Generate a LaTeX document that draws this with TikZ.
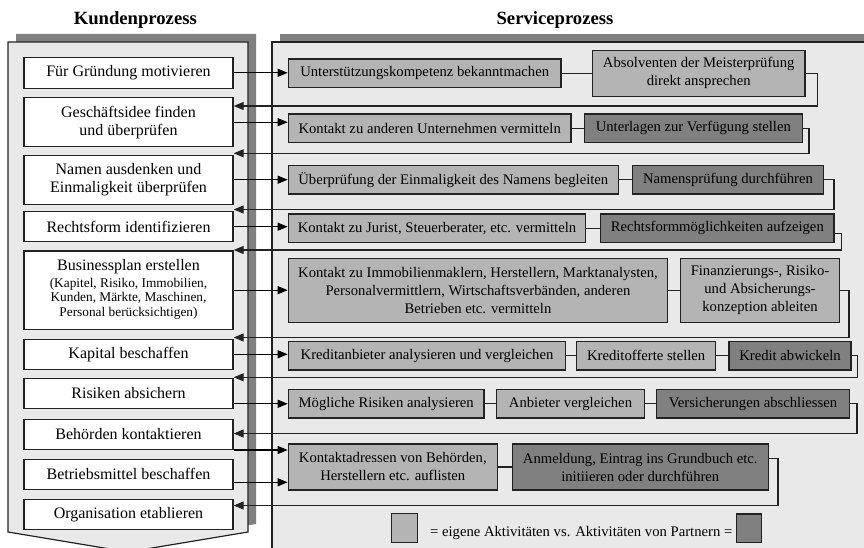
\documentclass[tikz,border=0pt]{standalone}
\usepackage{fontspec}
\setmainfont{Liberation Serif}
\usetikzlibrary{arrows.meta}
\definecolor{panelgray}{RGB}{233,233,233}
\definecolor{shadowgray}{RGB}{128,128,128}
\definecolor{ownact}{RGB}{180,180,180}
\definecolor{partneract}{RGB}{128,128,128}
\definecolor{edgegray}{RGB}{34,34,34}

\begin{document}
\begin{tikzpicture}[x=0.75pt,y=0.75pt,yscale=-1,xscale=1,
		kbox/.style={draw=edgegray,line width=1pt,fill=white,inner sep=0pt,align=center,minimum width=156.75pt,minimum height=22.5pt,font=\fontsize{12}{13.5}\selectfont},
		sbox/.style={draw=edgegray,line width=1pt,fill=ownact,inner sep=0pt,align=center,minimum height=21.5pt,font=\fontsize{11}{13.5}\selectfont},
		pbox/.style={sbox,fill=partneract},
		fwd/.style={draw=black,line width=0.9pt,-{Triangle[length=7.5pt,width=6pt]}},
		back/.style={fwd,draw=edgegray},
		link/.style={draw=edgegray,line width=0.9pt},
		ttl/.style={font=\bfseries\fontsize{14}{16}\selectfont,anchor=base}]
	\useasboundingbox (0,0) rectangle (864,548);
	\clip (0,0) rectangle (864,548);
	
	%Shape: Kundenprozess panel
	\fill[shadowgray] (16,34) -- (256,34) -- (256,524) -- (136,544) -- (16,524) -- cycle;
	\draw[draw=edgegray,fill=panelgray,line width=0.9pt] (8,42) -- (248,42) -- (248,532) -- (128,552) -- (8,532) -- cycle;
	%Shape: Serviceprozess panel
	\fill[shadowgray] (280,34) rectangle (890,570);
	\draw[draw=edgegray,fill=panelgray,line width=0.9pt] (272,42) rectangle (880,570);
	
	% Text Node
	\node[ttl] (tk) at (135.3,25) {Kundenprozess};
	% Text Node
	\node[ttl] (ts) at (555,25) {Serviceprozess};
	
	%Kundenprozess steps
	\node[kbox,minimum height=23.25pt] (k1) at (128.5,72.8) {Für Gründung motivieren};
	\node[kbox,minimum height=36.75pt] (k2) at (128.5,122.2) {Geschäftsidee finden\\und überprüfen};
	\node[kbox,minimum height=36.75pt] (k3) at (128.5,179.7) {Namen ausdenken und\\Einmaligkeit überprüfen};
	\node[kbox] (k4) at (128.5,226.7) {Rechtsform identifizieren};
	\node[kbox,minimum height=58.7pt] (k5) at (128.5,290.2) {Businessplan erstellen\\[1pt]{\fontsize{10}{11}\selectfont\begin{tabular}{@{}c@{}}(Kapitel, Risiko, Immobilien,\\Kunden, Märkte, Maschinen,\\Personal berücksichtigen)\end{tabular}}};
	\node[kbox] (k6) at (128.5,354.3) {Kapital beschaffen};
	\node[kbox] (k7) at (128.5,393.3) {Risiken absichern};
	\node[kbox] (k8) at (128.5,434.3) {Behörden kontaktieren};
	\node[kbox] (k9) at (128.5,474.3) {Betriebsmittel beschaffen};
	\node[kbox] (k10) at (128.5,514.3) {Organisation etablieren};
	
	%Serviceprozess activities
	\node[sbox,minimum width=204.5pt] (s11) at (424.7,73.3) {Unterstützungskompetenz bekanntmachen};
	\node[sbox,minimum width=159.5pt,minimum height=34.5pt] (s12) at (698.7,73.3) {Absolventen der Meisterprüfung\\direkt ansprechen};
	\node[sbox,minimum width=212pt] (s21) at (429.7,128.3) {Kontakt zu anderen Unternehmen vermitteln};
	\node[pbox,minimum width=163.5pt] (s22) at (693.3,128.3) {Unterlagen zur Verfügung stellen};
	\node[sbox,minimum width=247.5pt] (s31) at (453.3,179.8) {Überprüfung der Einmaligkeit des Namens begleiten};
	\node[pbox,minimum width=143pt] (s32) at (728,179.8) {Namensprüfung durchführen};
	\node[sbox,minimum width=223pt] (s41) at (437,228.2) {Kontakt zu Jurist, Steuerberater, etc. vermitteln};
	\node[pbox,minimum width=175pt] (s42) at (717.3,228.2) {Rechtsformmöglichkeiten aufzeigen};
	\node[sbox,minimum width=284.5pt,minimum height=48pt] (s51) at (478,290.3) {Kontakt zu Immobilienmaklern, Herstellern, Marktanalysten,\\Personalvermittlern, Wirtschaftsverbänden, anderen\\Betrieben etc. vermitteln};
	\node[sbox,minimum width=119pt,minimum height=48pt] (s52) at (760,290.3) {Finanzierungs-, Risiko-\\und Absicherungs-\\konzeption ableiten};
	\node[sbox,minimum width=208pt] (s61) at (427,355.8) {Kreditanbieter analysieren und vergleichen};
	\node[sbox,minimum width=104.25pt] (s62) at (646.2,355.8) {Kreditofferte stellen};
	\node[pbox,minimum width=91.5pt] (s63) at (790,355.8) {Kredit abwickeln};
	\node[sbox,minimum width=146.75pt] (s71) at (386.2,403.8) {Mögliche Risiken analysieren};
	\node[sbox,minimum width=110.7pt] (s72) at (570.5,403.8) {Anbieter vergleichen};
	\node[pbox,minimum width=144.5pt] (s73) at (753,403.8) {Versicherungen abschliessen};
	\node[sbox,minimum width=156.75pt,minimum height=34.5pt] (s81) at (392.8,467) {Kontaktadressen von Behörden,\\Herstellern etc. auflisten};
	\node[pbox,minimum width=192pt,minimum height=34.5pt] (s82) at (640.3,467) {Anmeldung, Eintrag ins Grundbuch etc.\\initiieren oder durchführen};
	
	%Legend
	\node[sbox,minimum width=19.2pt,minimum height=22pt] (l1) at (404.5,528) {};
	\node[pbox,minimum width=18.75pt,minimum height=21.5pt] (l2) at (749.2,528.3) {};
	\node[font=\fontsize{11}{13.5}\selectfont,anchor=base] (lt) at (581.2,536.7) {= eigene Aktivitäten vs. Aktivitäten von Partnern =};
	
	%Straight Lines: into the service rows
	\draw[fwd] (k1.east) -- (k1.east -| s11.west);
	\draw[fwd] (k2.east) -- (k2.east -| s21.west);
	\draw[fwd] (k3.east) -- (k3.east -| s31.west);
	\draw[fwd] (k4.east) -- (k4.east -| s41.west);
	\draw[fwd] (k5.east) -- (k5.east -| s51.west);
	\draw[fwd] (k6.east) -- (k6.east -| s61.west);
	\draw[fwd] (s71.west -| k7.east) -- (s71.west);
	\draw[fwd] (k8.east |- 0,450) -- (s81.west |- 0,450);
	\draw[fwd] (k9.east |- 0,482.3) -- (s81.west |- 0,482.3);
	
	%Straight Lines: within the rows
	\draw[link] (s11) -- (s12);
	\draw[link] (s21) -- (s22);
	\draw[link] (s31) -- (s32);
	\draw[link] (s41) -- (s42);
	\draw[link] (s51) -- (s52);
	\draw[link] (s61) -- (s62);
	\draw[link] (s62) -- (s63);
	\draw[link] (s71) -- (s72);
	\draw[link] (s72) -- (s73);
	\draw[link] (s81) -- (s82);
	
	%Straight Lines: back to the next step
	\draw[back] (s12.east) -- ++(12,0) |- (k2.east |- 0,106);
	\draw[back] (s22.east) -- ++(6,0) |- (k3.east |- 0,153.3);
	\draw[back] (s32.east) -- ++(10,0) |- (k4.east |- 0,209.5);
	\draw[back] (s42.east |- 0,233.3) -- ++(7,0) |- (k5.east |- 0,250);
	\draw[back] (s52.east) -- ++(9,0) |- (k6.east |- 0,337.5);
	\draw[back] (s63.east) -- ++(6,0) |- (k7.east |- 0,377.3);
	\draw[back] (s73.east) -- ++(7,0) |- (k8.east |- 0,433.5);
	\draw[back] (s82.east |- 0,458.3) -- ++(9,0) |- (k10.east |- 0,505.5);
	
\end{tikzpicture}
\end{document}
